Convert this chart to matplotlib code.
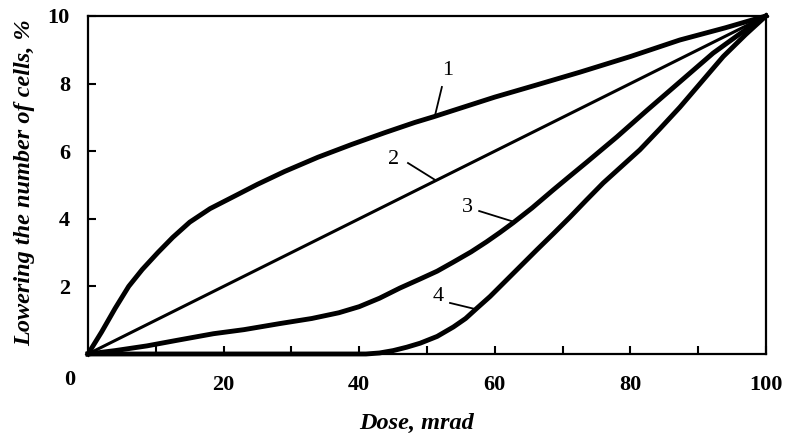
import matplotlib
matplotlib.use("Agg")
import matplotlib.pyplot as plt

# dose (mrad) vs lowering of cell number (%)
dose_1 = [0, 2, 4, 6, 8, 10.3, 12.5, 15, 18, 21.7, 25, 29, 33.9, 38.9, 43.8, 48.2,
          51, 60, 66, 72.6, 80, 87.3, 94, 100]
drop_1 = [0, 0.65, 1.35, 2.0, 2.5, 3.0, 3.45, 3.9, 4.3, 4.68, 5.02, 5.4, 5.82, 6.2,
          6.55, 6.85, 7.02, 7.6, 7.95, 8.34, 8.8, 9.29, 9.65, 10]

dose_2 = [0, 100]
drop_2 = [0, 10]

dose_3 = [0, 4, 8.7, 13, 18.5, 23, 28.3, 33, 37, 40, 43, 46, 49, 51.5, 53.9, 56.5,
          58.8, 60.8, 62.7, 65.5, 68.6, 71, 73.6, 78, 82.4, 87.3, 92.2, 96, 100]
drop_3 = [0, 0.1, 0.24, 0.4, 0.6, 0.72, 0.9, 1.05, 1.22, 1.4, 1.65, 1.95, 2.22, 2.45,
          2.72, 3.02, 3.32, 3.6, 3.88, 4.32, 4.85, 5.25, 5.68, 6.42, 7.2, 8.05, 8.9,
          9.45, 10]

dose_4 = [0, 41, 43, 45, 47, 49, 51.5, 53.9, 55.7, 57.4, 59.3, 61.3, 63.8, 66.2,
          68.7, 71.1, 73.5, 76, 78.7, 81.4, 84.3, 87.3, 90.5, 93.7, 97, 100]
drop_4 = [0, 0, 0.03, 0.1, 0.2, 0.32, 0.52, 0.8, 1.05, 1.36, 1.7, 2.1, 2.6, 3.08,
          3.57, 4.05, 4.55, 5.06, 5.55, 6.04, 6.65, 7.3, 8.05, 8.8, 9.45, 10]

curve_names = ["1", "2", "3", "4"]
x_ticks = [20, 40, 60, 80, 100]
x_minor = [10, 30, 50, 70, 90]
y_ticks = [2, 4, 6, 8, 10]

serif = "Liberation Serif"

fig = plt.figure(figsize=(7.88, 4.38), dpi=100)
ax = fig.add_axes([0.1117, 0.1918, 0.972 - 0.1117, 0.9635 - 0.1918])

ax.plot(dose_1, drop_1, color="black", lw=3.5, clip_on=False)
ax.plot(dose_2, drop_2, color="black", lw=2.2, clip_on=False)
ax.plot(dose_3, drop_3, color="black", lw=3.5, clip_on=False)
ax.plot(dose_4, drop_4, color="black", lw=3.5, clip_on=False)

ax.set_xlim(0, 100)
ax.set_ylim(0, 10)

for s in ax.spines.values():
    s.set_linewidth(1.6)

ax.set_xticks(x_ticks)
ax.set_xticks(x_minor, minor=True)
ax.set_yticks(y_ticks)
ax.tick_params(axis="both", which="both", direction="in", length=6, width=1.5)
ax.tick_params(axis="x", which="major", pad=15)
ax.tick_params(axis="y", which="major", pad=13)
for lab in ax.get_xticklabels() + ax.get_yticklabels():
    lab.set_fontfamily(serif)
    lab.set_fontweight("bold")
    lab.set_fontsize(16)

# shared origin label
ax.text(-2.7, -0.78, "0", ha="center", va="center", fontfamily=serif,
        fontweight="bold", fontsize=16, clip_on=False)

# axis titles placed in figure pixels
fig.text(417 / 788, 1 - 423 / 438, "Dose, mrad", ha="center", va="center",
         fontfamily=serif, fontstyle="italic", fontweight="bold", fontsize=17.5)
fig.text(25 / 788, 1 - 183 / 438, "Lowering the number of cells, %", rotation=90,
         ha="center", va="center", fontfamily=serif, fontstyle="italic",
         fontweight="bold", fontsize=17.5)

# curve numbers with short leader lines
label_pos = [(53.1, 8.4), (45.0, 5.74), (55.9, 4.32), (51.6, 1.69)]
leaders = [((52.2, 7.9), (51.2, 7.07)),
           ((47.2, 5.65), (51.2, 5.15)),
           ((57.7, 4.23), (62.5, 3.93)),
           ((53.4, 1.51), (57.1, 1.33))]
for name, (lx, ly), (p0, p1) in zip(curve_names, label_pos, leaders):
    ax.text(lx, ly, name, ha="center", va="center", fontfamily=serif, fontsize=16)
    ax.plot([p0[0], p1[0]], [p0[1], p1[1]], color="black", lw=1.3)

fig.savefig("out.png", dpi=100)
